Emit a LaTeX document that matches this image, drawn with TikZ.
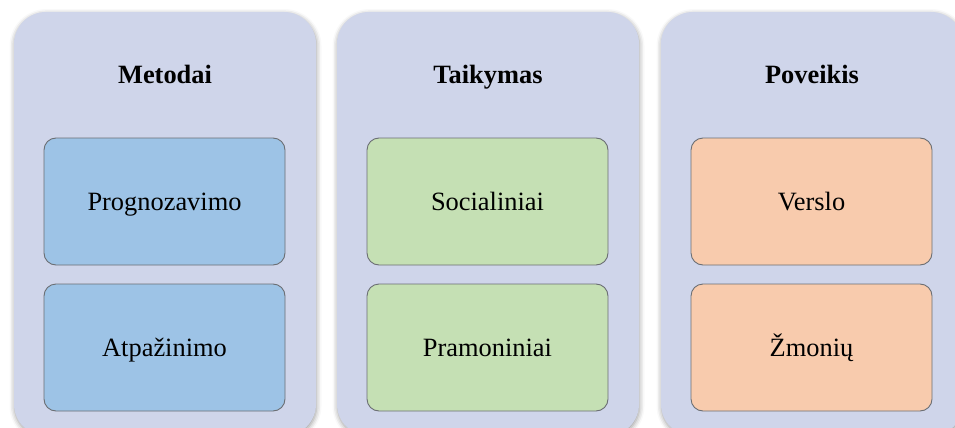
\documentclass[tikz,border=0pt]{standalone}
\usepackage{fontspec}
\setmainfont{Liberation Serif}
\usetikzlibrary{shadows.blur}

\definecolor{panelfill}{HTML}{CFD5EA}
\definecolor{bluefill}{HTML}{9DC3E6}
\definecolor{greenfill}{HTML}{C5E0B4}
\definecolor{orangefill}{HTML}{F8CBAD}
\definecolor{edgegrey}{HTML}{6B6E73}

\tikzset{
  panel/.style={rectangle, rounded corners=32pt, fill=panelfill, draw=none,
    minimum width=302pt, minimum height=424pt, inner sep=0pt,
    blur shadow={shadow xshift=0.5pt, shadow yshift=-2pt,
      shadow blur radius=5pt, shadow opacity=40}},
  paneltitle/.style={font=\fontsize{26.4pt}{30pt}\selectfont\bfseries,
    text height=17.5pt, text depth=0pt, inner sep=0pt},
  itembox/.style={rectangle, rounded corners=12pt, draw=edgegrey, line width=0.9pt,
    minimum width=241pt, minimum height=127pt, inner sep=0pt,
    font=\fontsize{26.4pt}{30pt}\selectfont, text height=17.5pt, text depth=0pt},
}

\begin{document}
\begin{tikzpicture}[x=1pt, y=-1pt]
  \useasboundingbox (0,0) rectangle (955,428);

  % three columns
  \node[panel] (p1) at (165,224) {};
  \node[panel] (p2) at (488,224) {};
  \node[panel] (p3) at (812,224) {};

  % column headings
  \node[paneltitle] (t1) at (165,74.5) {Metodai};
  \node[paneltitle] (t2) at (488,74.5) {Taikymas};
  \node[paneltitle] (t3) at (812,74.5) {Poveikis};

  % entries of each column
  \node[itembox, fill=bluefill] (m1) at (164.5,201.5) {Prognozavimo};
  \node[itembox, fill=bluefill] (m2) at (164.5,347.5) {Atpažinimo};

  \node[itembox, fill=greenfill] (s1) at (487.5,201.5) {Socialiniai};
  \node[itembox, fill=greenfill] (s2) at (487.5,347.5) {Pramoniniai};

  \node[itembox, fill=orangefill] (v1) at (811.5,201.5) {Verslo};
  \node[itembox, fill=orangefill] (v2) at (811.5,347.5) {Žmonių};
\end{tikzpicture}
\end{document}
